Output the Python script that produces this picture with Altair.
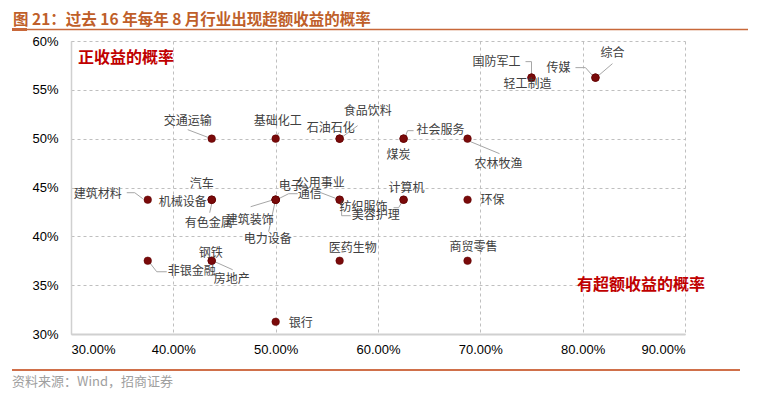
import altair as alt
import pandas as pd

# ---------------- data ----------------
industries = ["交通运输", "基础化工", "石油石化", "食品饮料", "煤炭", "社会服务", "农林牧渔",
              "国防军工", "轻工制造", "传媒", "综合",
              "建筑材料", "汽车", "机械设备", "有色金属", "电子", "通信", "建筑装饰", "电力设备",
              "公用事业", "美容护理", "计算机", "纺织服饰", "环保",
              "非银金融", "钢铁", "房地产", "医药生物", "商贸零售", "银行"]
# probability of excess return (x axis, %)
excess_prob = [43.75, 50.0, 56.25, 56.25, 62.5, 62.5, 68.75,
               75.0, 75.0, 81.25, 81.25,
               37.5, 43.75, 43.75, 43.75, 50.0, 50.0, 50.0, 50.0,
               56.25, 56.25, 62.5, 62.5, 68.75,
               37.5, 43.75, 43.75, 56.25, 68.75, 50.0]
# probability of positive return (y axis, %)
positive_prob = [50.0, 50.0, 50.0, 50.0, 50.0, 50.0, 50.0,
                 56.25, 56.25, 56.25, 56.25,
                 43.75, 43.75, 43.75, 43.75, 43.75, 43.75, 43.75, 43.75,
                 43.75, 43.75, 43.75, 43.75, 43.75,
                 37.5, 37.5, 37.5, 37.5, 37.5, 31.25]

x_ticks = [30, 40, 50, 60, 70, 80, 90]
y_ticks = [30, 35, 40, 45, 50, 55, 60]

title_text = "图 21：过去 16 年每年 8 月行业出现超额收益的概率"
source_text = "资料来源：Wind，招商证券"
corner_top = "正收益的概率"
corner_bottom = "有超额收益的概率"

# ---------------- layout (label offsets in px from each dot) ----------------
label_offsets = {
    "交通运输": (-24, -18), "基础化工": (2, -18), "石油石化": (-9, -11), "食品饮料": (28, -28),
    "煤炭": (-5, 16), "社会服务": (37, -9), "农林牧渔": (31, 25),
    "国防军工": (-35, -16), "轻工制造": (-4, 6), "传媒": (-37, -10), "综合": (17, -25),
    "建筑材料": (-50, -6), "汽车": (-10, -16), "机械设备": (-29, 2), "有色金属": (-3, 23),
    "电子": (15, -14), "通信": (34, -6), "建筑装饰": (-26, 20), "电力设备": (-8, 39),
    "公用事业": (-19, -17), "美容护理": (36, 15), "计算机": (3, -12), "纺织服饰": (-40, 7),
    "环保": (25, 0), "非银金融": (44, 10), "钢铁": (-1, -8), "房地产": (20, 18),
    "医药生物": (13, -13), "商贸零售": (6, -14), "银行": (25, 1),
}
leader_paths = {
    "交通运输": [(-24, -9), (-3, -1)],
    "基础化工": [(3, -6), (1, -2)],
    "食品饮料": [(18, -13), (3, -2)],
    "社会服务": [(2, -3), (4, -8), (10, -8)],
    "农林牧渔": [(3, 3), (32, 15)],
    "国防军工": [(-6, -16), (0, -16), (0, -3)],
    "传媒": [(-20, -10), (-10, -10), (-2, -1)],
    "综合": [(17, -14), (3, -2)],
    "建筑材料": [(-21, -7), (-13, -7), (-5, -1)],
    "有色金属": [(-2, 13), (0, 4)],
    "通信": [(3, -1), (13, -6), (22, -6)],
    "建筑装饰": [(-25, 7), (-2, 0)],
    "电力设备": [(-7, 32), (-1, 4)],
    "公用事业": [(-24, -9), (-3, -1)],
    "美容护理": [(2, 4), (2, 16), (11, 16)],
    "纺织服饰": [(-10, 8), (-5, 8), (-2, 3)],
    "非银金融": [(2, 2), (9, 11), (19, 11)],
    "房地产": [(1, 0), (21, 9)],
}

W, H = 614, 293
XMIN, XMAX, YMIN, YMAX = 30, 90, 30, 60


def dx_data(px):
    return px * (XMAX - XMIN) / W


def dy_data(px):
    return -px * (YMAX - YMIN) / H


pts = pd.DataFrame({"name": industries, "x": excess_prob, "y": positive_prob})

lab_rows = []
for n, x, y in zip(industries, excess_prob, positive_prob):
    ox, oy = label_offsets[n]
    lab_rows.append({"name": n, "lx": x + dx_data(ox), "ly": y + dy_data(oy)})
labels = pd.DataFrame(lab_rows)

lead_rows = []
pos = {n: (x, y) for n, x, y in zip(industries, excess_prob, positive_prob)}
for n, path in leader_paths.items():
    x, y = pos[n]
    for i, (ox, oy) in enumerate(path):
        lead_rows.append({"name": n, "seq": i, "lx": x + dx_data(ox), "ly": y + dy_data(oy)})
leads = pd.DataFrame(lead_rows)

xs = alt.Scale(domain=[XMIN, XMAX], nice=False, zero=False)
ys = alt.Scale(domain=[YMIN, YMAX], nice=False, zero=False)

grid_common = dict(grid=True, gridDash=[3, 3], gridColor="#BFBFBF", gridWidth=1,
                   ticks=False, tickSize=0, title=None, labelFont="Liberation Sans",
                   labelFontSize=13, labelColor="#000000", domainColor="#D0D0D0")
xaxis = alt.Axis(values=x_ticks, labelExpr="format(datum.value, '.2f') + '%'",
                 labelPadding=9, domainWidth=2, **grid_common)
yaxis = alt.Axis(values=y_ticks, labelExpr="datum.value + '%'",
                 labelPadding=13, domainWidth=1.5, **grid_common)

leader_layer = alt.Chart(leads).mark_line(color="#A6A6A6", strokeWidth=1).encode(
    x=alt.X("lx:Q", scale=xs, axis=xaxis),
    y=alt.Y("ly:Q", scale=ys, axis=yaxis),
    detail="name:N",
    order="seq:Q",
)

dots = alt.Chart(pts).mark_circle(size=58, color="#7A0A0A", opacity=1,
                                  stroke="#5A0000", strokeWidth=0.5).encode(
    x=alt.X("x:Q", scale=xs, axis=xaxis),
    y=alt.Y("y:Q", scale=ys, axis=yaxis),
)

text_layer = alt.Chart(labels).mark_text(font="Noto Sans CJK SC", fontSize=12,
                                         color="#404040", align="center",
                                         baseline="middle").encode(
    x=alt.X("lx:Q", scale=xs, axis=xaxis),
    y=alt.Y("ly:Q", scale=ys, axis=yaxis),
    text="name:N",
)

ann = pd.DataFrame({"t": [corner_top]})
top_note = alt.Chart(ann).mark_text(font="Noto Sans CJK SC", fontSize=16, fontWeight="bold",
                                    color="#C00000", align="center", baseline="middle").encode(
    x=alt.value(55), y=alt.value(16.5), text="t:N")
ann2 = pd.DataFrame({"t": [corner_bottom]})
bottom_note = alt.Chart(ann2).mark_text(font="Noto Sans CJK SC", fontSize=16, fontWeight="bold",
                                        color="#C00000", align="center", baseline="middle").encode(
    x=alt.value(570), y=alt.value(243.5), text="t:N")

ttl = pd.DataFrame({"t": [title_text]})
title_mark = alt.Chart(ttl).mark_text(font="Noto Sans CJK SC", fontSize=15.5, fontWeight="bold",
                                      color="#BF5F2A", align="left", baseline="middle").encode(
    x=alt.value(-58), y=alt.value(-21.5), text="t:N")
src = pd.DataFrame({"t": [source_text]})
source_mark = alt.Chart(src).mark_text(font="Noto Sans CJK SC", fontSize=13,
                                       color="#A0A0A0", align="left", baseline="middle").encode(
    x=alt.value(-59), y=alt.value(340.5), text="t:N")

top_line = alt.Chart(ttl).mark_rule(color="#C8683A", strokeWidth=1.5).encode(
    x=alt.value(-59), x2=alt.value(677), y=alt.value(-11.5))
top_block = alt.Chart(ttl).mark_rule(color="#C8683A", strokeWidth=3).encode(
    x=alt.value(-59), x2=alt.value(-44), y=alt.value(-11.5))
bottom_line = alt.Chart(src).mark_rule(color="#D0704A", strokeWidth=2).encode(
    x=alt.value(-59), x2=alt.value(669), y=alt.value(329))

chart = alt.layer(
    leader_layer, dots, text_layer, top_note, bottom_note,
    title_mark, source_mark, top_line, top_block, bottom_line,
).properties(
    width=W, height=H,
    autosize=alt.AutoSizeParams(type="none"),
    padding={"left": 63, "top": 33, "right": 66, "bottom": 58},
    background="white",
).configure_view(stroke=None)

chart.save("out.html", embed_options={"renderer": "svg", "actions": False})
